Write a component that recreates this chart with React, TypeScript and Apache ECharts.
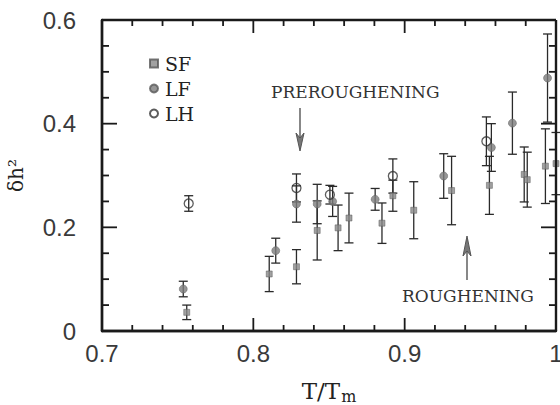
import React, { useEffect, useRef } from "react";
import * as echarts from "echarts";

// SF series (T/Tm, δh², error)
const sfX = [0.756, 0.8105, 0.8285, 0.8422, 0.856, 0.8632, 0.885, 0.8922, 0.906, 0.931, 0.956, 0.979, 0.981, 0.993, 1.0];
const sfY = [0.036, 0.110, 0.124, 0.194, 0.199, 0.218, 0.208, 0.261, 0.233, 0.271, 0.281, 0.302, 0.292, 0.318, 0.323];
const sfErr = [0.014, 0.034, 0.033, 0.057, 0.044, 0.048, 0.039, 0.030, 0.055, 0.066, 0.056, 0.053, 0.053, 0.072, 0.060];

// LF series
const lfX = [0.7537, 0.8148, 0.8285, 0.8422, 0.8524, 0.8805, 0.9258, 0.9573, 0.9712, 0.9944];
const lfY = [0.081, 0.155, 0.245, 0.245, 0.250, 0.254, 0.299, 0.354, 0.401, 0.488];
const lfErr = [0.015, 0.024, 0.035, 0.038, 0.029, 0.021, 0.043, 0.046, 0.060, 0.085];

// LH series
const lhX = [0.7573, 0.8285, 0.8506, 0.8922, 0.954];
const lhY = [0.246, 0.276, 0.263, 0.299, 0.366];
const lhErr = [0.015, 0.027, 0.018, 0.033, 0.047];

const xTickLabels = ["0.7", "0.8", "0.9", "1"];
const yTickLabels = ["0", "0.2", "0.4", "0.6"];

const X_MIN = 0.7;
const X_MAX = 1.0;
const Y_MIN = 0;
const Y_MAX = 0.6;
const X_MINOR = 0.02;
const Y_MINOR = 0.05;

const SERIF = "'DejaVu Serif', 'Liberation Serif', serif";
const SANS = "'Liberation Sans', 'DejaVu Sans', sans-serif";

function toRows(xs: number[], ys: number[], es: number[]) {
  return xs.map((x, i) => [x, ys[i], es[i]]);
}

const errorRender = (params: any, api: any) => {
  const x = api.value(0);
  const y = api.value(1);
  const e = api.value(2);
  const top = api.coord([x, y + e]);
  const bot = api.coord([x, y - e]);
  const hw = 4.5;
  return {
    type: "group",
    children: [
      { type: "line", shape: { x1: top[0], y1: top[1], x2: bot[0], y2: bot[1] }, style: { stroke: "#2a2a2a", lineWidth: 1.3 } },
      { type: "line", shape: { x1: top[0] - hw, y1: top[1], x2: top[0] + hw, y2: top[1] }, style: { stroke: "#2a2a2a", lineWidth: 1.3 } },
      { type: "line", shape: { x1: bot[0] - hw, y1: bot[1], x2: bot[0] + hw, y2: bot[1] }, style: { stroke: "#2a2a2a", lineWidth: 1.3 } },
    ],
  };
};

// Plot frame with inward major/minor ticks on all four sides, placed via the axes' scales.
const frameRender = (params: any, api: any) => {
  const bl = api.coord([X_MIN, Y_MIN]);
  const tr = api.coord([X_MAX, Y_MAX]);
  const frame = { stroke: "#1a1a1a", lineWidth: 2.4 };
  const tick = { stroke: "#1a1a1a", lineWidth: 1.8 };
  const children: any[] = [
    { type: "line", shape: { x1: bl[0], y1: bl[1], x2: tr[0], y2: bl[1] }, style: frame },
    { type: "line", shape: { x1: bl[0], y1: tr[1], x2: tr[0], y2: tr[1] }, style: frame },
    { type: "line", shape: { x1: bl[0], y1: bl[1], x2: bl[0], y2: tr[1] }, style: frame },
    { type: "line", shape: { x1: tr[0], y1: bl[1], x2: tr[0], y2: tr[1] }, style: frame },
  ];
  const nx = Math.round((X_MAX - X_MIN) / X_MINOR);
  for (let i = 1; i < nx; i++) {
    const p = api.coord([X_MIN + i * X_MINOR, Y_MIN])[0];
    const len = i % 5 === 0 ? 13 : 6;
    children.push({ type: "line", shape: { x1: p, y1: bl[1], x2: p, y2: bl[1] - len }, style: tick });
    children.push({ type: "line", shape: { x1: p, y1: tr[1], x2: p, y2: tr[1] + len }, style: tick });
  }
  const ny = Math.round((Y_MAX - Y_MIN) / Y_MINOR);
  for (let i = 1; i < ny; i++) {
    const p = api.coord([X_MIN, Y_MIN + i * Y_MINOR])[1];
    const len = i % 4 === 0 ? 15 : 7;
    children.push({ type: "line", shape: { x1: bl[0], y1: p, x2: bl[0] + len, y2: p }, style: tick });
    children.push({ type: "line", shape: { x1: tr[0], y1: p, x2: tr[0] - len, y2: p }, style: tick });
  }
  return { type: "group", children };
};

export default function App() {
  const ref = useRef<HTMLDivElement>(null);
  useEffect(() => {
    document.body.style.margin = "0";
    if (!ref.current) return;
    const chart = echarts.init(ref.current, undefined, { renderer: "svg" });
    const labelFor = (labels: string[], min: number, step: number) => (v: number) => {
      const idx = Math.round((v - min) / step);
      return labels[idx] ?? "";
    };
    const option: any = {
      animation: false,
      grid: { left: 102, right: 4, top: 20, bottom: 74, containLabel: false, outerBoundsMode: "none" },
      xAxis: {
        type: "value",
        min: X_MIN,
        max: X_MAX,
        interval: 0.1,
        axisLine: { show: true, onZero: false, lineStyle: { color: "#1a1a1a", width: 2.4 } },
        axisTick: { show: false },
        minorTick: { show: false },
        splitLine: { show: false },
        name: "T/T{m|m}",
        nameLocation: "middle",
        nameGap: 47,
        nameTextStyle: {
          fontFamily: SERIF,
          fontSize: 23,
          color: "#222",
          rich: { m: { fontFamily: SERIF, fontSize: 16, color: "#222", padding: [10, 0, 0, 1] } },
        },
        axisLabel: {
          show: true,
          margin: 10,
          fontFamily: SANS,
          fontSize: 24,
          color: "#3a3a3a",
          formatter: labelFor(xTickLabels, X_MIN, 0.1),
        },
      },
      yAxis: {
        type: "value",
        min: Y_MIN,
        max: Y_MAX,
        interval: 0.2,
        axisLine: { show: true, onZero: false, lineStyle: { color: "#1a1a1a", width: 2.4 } },
        axisTick: { show: false },
        minorTick: { show: false },
        splitLine: { show: false },
        name: "δh²",
        nameLocation: "middle",
        nameGap: 76,
        nameRotate: 90,
        nameTextStyle: { fontFamily: SERIF, fontSize: 20, color: "#222" },
        axisLabel: {
          show: true,
          margin: 26,
          fontFamily: SANS,
          fontSize: 24,
          color: "#3a3a3a",
          formatter: labelFor(yTickLabels, Y_MIN, 0.2),
        },
      },
      legend: {
        orient: "vertical",
        left: 144,
        top: 49,
        itemGap: 6,
        itemWidth: 8,
        itemHeight: 8,
        textStyle: { fontFamily: SERIF, fontSize: 19, color: "#222", padding: [0, 0, 0, 2] },
        data: [
          { name: "SF", icon: "rect" },
          { name: "LF", icon: "circle" },
          { name: "LH", icon: "circle" },
        ],
      },
      series: [
        {
          type: "custom",
          name: "frame",
          renderItem: frameRender,
          data: [[X_MIN, Y_MIN]],
          encode: { x: 0, y: 1 },
          clip: false,
          silent: true,
          z: 4,
        },
        {
          type: "custom",
          name: "SF err",
          renderItem: errorRender,
          data: toRows(sfX, sfY, sfErr),
          encode: { x: 0, y: 1 },
          clip: false,
          z: 2,
        },
        {
          type: "custom",
          name: "LF err",
          renderItem: errorRender,
          data: toRows(lfX, lfY, lfErr),
          encode: { x: 0, y: 1 },
          clip: false,
          z: 2,
        },
        {
          type: "custom",
          name: "LH err",
          renderItem: errorRender,
          data: toRows(lhX, lhY, lhErr),
          encode: { x: 0, y: 1 },
          clip: false,
          z: 2,
        },
        {
          type: "scatter",
          name: "SF",
          symbol: "rect",
          symbolSize: 6,
          itemStyle: { color: "#8a8a8a", borderColor: "#555", borderWidth: 0.6 },
          data: sfX.map((x, i) => [x, sfY[i]]),
          clip: false,
          z: 3,
        },
        {
          type: "scatter",
          name: "LF",
          symbol: "circle",
          symbolSize: 8,
          itemStyle: { color: "#7c7c7c", borderColor: "#5a5a5a", borderWidth: 0.6 },
          data: lfX.map((x, i) => [x, lfY[i]]),
          clip: false,
          z: 3,
        },
        {
          type: "scatter",
          name: "LH",
          symbol: "circle",
          symbolSize: 9,
          itemStyle: { color: "rgba(255,255,255,0)", borderColor: "#333", borderWidth: 1.3 },
          data: lhX.map((x, i) => [x, lhY[i]]),
          clip: false,
          z: 3,
        },
      ],
      graphic: [
        {
          type: "text",
          left: 271,
          top: 83,
          style: { text: "PREROUGHENING", fontFamily: SERIF, fontSize: 17, fill: "#333" },
        },
        {
          type: "text",
          left: 402,
          top: 287,
          style: { text: "ROUGHENING", fontFamily: SERIF, fontSize: 17, fill: "#333" },
        },
        { type: "line", shape: { x1: 300, y1: 108, x2: 300, y2: 149 }, style: { stroke: "#555", lineWidth: 1.4 } },
        { type: "polygon", shape: { points: [[296, 133], [300, 151], [304, 133], [300, 138]] }, style: { fill: "#777", stroke: "#555", lineWidth: 1 } },
        { type: "line", shape: { x1: 467, y1: 238, x2: 467, y2: 280 }, style: { stroke: "#555", lineWidth: 1.4 } },
        { type: "polygon", shape: { points: [[463, 256], [467, 236], [471, 256], [467, 251]] }, style: { fill: "#777", stroke: "#555", lineWidth: 1 } },
      ],
    };
    chart.setOption(option);
    return () => chart.dispose();
  }, []);
  return <div ref={ref} style={{ width: 560, height: 405 }} />;
}
